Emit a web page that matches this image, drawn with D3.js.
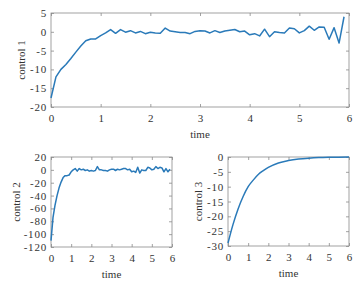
<!DOCTYPE html>
<html lang="en">
<head>
<meta charset="UTF-8">
<script src="https://d3js.org/d3.v7.min.js"></script>
<style>
    body { margin: 0; background: #fff; }
    svg { display: block; }
    svg text { font-family: 'Liberation Serif', 'Times New Roman', 'DejaVu Serif', serif; }
</style>
</head>
<body>
<script>
    // control 1 (top), sampled every 0.1 s
    var t1 = d3.range(60).map(function (i) { return i / 10; });
    var control1 = [-17.6, -12, -10, -8.7, -7.1, -5.4, -3.8, -2.4, -1.9, -1.9,
        -1.0, -0.3, 0.6, -0.4, 0.6, -0.1, 0.3, -0.3, 0.1, -0.5,
        -0.1, -0.3, -0.4, 1.0, 0.2, 0.0, -0.2, -0.2, -0.5, 0.1,
        0.3, 0.2, -0.3, 0.3, -0.2, 0.2, 0.4, 0.6, 0.0, 0.2,
        -0.8, -0.5, -1.1, 0.7, -1.3, 0.0, -0.2, -0.3, 1.0, 0.8,
        -0.3, 0.3, 1.5, 0.4, 1.3, 1.2, -2.0, 1.1, -3.0, 4.0];

    // control 2 (bottom left)
    var t2 = d3.range(60).map(function (i) { return i / 10; });
    var control2 = [-110, -74, -55, -40, -28, -19, -12, -9, -9, -8,
        -3, 0, 2, -2, 2, 0, 1, -1, 0, -2,
        -1, -2, -1, 5, 0, 0, -1, -1, -2, 0,
        1, 1, -1, 1, 0, 1, 2, 2, 0, 1,
        -3, -2, -4, 4, -5, 0, -1, -1, 4, 3,
        0, 1, 5, 2, 4, 3, -3, 2, -3, 1];

    // control 3 (bottom right)
    var t3 = [0, 0.25, 0.5, 0.75, 1, 1.25, 1.5, 1.75, 2, 2.5, 3, 3.5, 4, 4.5, 5, 5.5, 6];
    var control3 = [-29, -22.7, -17.5, -13.3, -10, -7.8, -5.9, -4.6, -3.5, -2.0, -1.2, -0.7, -0.4, -0.2, -0.1, -0.05, 0];

    var xTicks = [0, 1, 2, 3, 4, 5, 6];
    var y1Ticks = [-20, -15, -10, -5, 0, 5];
    var y2Ticks = [-120, -100, -80, -60, -40, -20, 0, 20];
    var y3Ticks = [-30, -25, -20, -15, -10, -5, 0];

    var W = 363, H = 286;
    var lineColor = '#2a7ab9';
    var boxColor = '#8a8a8a';
    var serif = "'Liberation Serif', 'Times New Roman', serif";

    var svg = d3.select('body').append('svg')
        .attr('width', W).attr('height', H)
        .attr('font-family', serif);

    function panel(opts) {
        var x = d3.scaleLinear().domain([0, 6]).range([opts.left, opts.right]);
        var y = d3.scaleLinear().domain(opts.yDomain).range([opts.bottom, opts.top]);
        var g = svg.append('g');

        // box
        g.append('rect')
            .attr('x', opts.left).attr('y', opts.top)
            .attr('width', opts.right - opts.left)
            .attr('height', opts.bottom - opts.top)
            .attr('fill', 'none').attr('stroke', boxColor).attr('stroke-width', 0.8);

        // axes with inward ticks
        var fmt = d3.format('d');
        var xb = g.append('g').attr('transform', 'translate(0,' + opts.bottom + ')')
            .call(d3.axisBottom(x).tickValues(xTicks).tickFormat(fmt).tickSizeInner(-3).tickSizeOuter(0).tickPadding(7));
        var xt = g.append('g').attr('transform', 'translate(0,' + opts.top + ')')
            .call(d3.axisTop(x).tickValues(xTicks).tickSizeInner(-3).tickSizeOuter(0).tickFormat(''));
        var yl = g.append('g').attr('transform', 'translate(' + opts.left + ',0)')
            .call(d3.axisLeft(y).tickValues(opts.yTicks).tickFormat(fmt).tickSizeInner(-3).tickSizeOuter(0).tickPadding(4));
        var yr = g.append('g').attr('transform', 'translate(' + opts.right + ',0)')
            .call(d3.axisRight(y).tickValues(opts.yTicks).tickSizeInner(-3).tickSizeOuter(0).tickFormat(''));

        [xb, xt, yl, yr].forEach(function (a) {
            a.attr('font-family', serif).attr('font-size', 11);
            a.select('.domain').remove();
            a.selectAll('line').attr('stroke', boxColor).attr('stroke-width', 0.8);
            a.selectAll('text').attr('fill', '#333');
        });
        // hyphen-minus like the original, slightly spaced out
        yl.selectAll('text').text(function (d) { return String(d); })
            .attr('letter-spacing', 0.8);

        var line = d3.line()
            .x(function (d, i) { return x(opts.t[i]); })
            .y(function (d) { return y(d); });
        if (opts.smooth) line.curve(d3.curveMonotoneX);

        g.append('path').datum(opts.values)
            .attr('d', line)
            .attr('fill', 'none')
            .attr('stroke', lineColor)
            .attr('stroke-width', 1.5)
            .attr('stroke-linejoin', 'round');

        g.append('text')
            .attr('x', (opts.left + opts.right) / 2)
            .attr('y', opts.bottom + 31)
            .attr('text-anchor', 'middle')
            .attr('fill', '#333')
            .attr('font-size', 11)
            .text('time');

        g.append('text')
            .attr('transform', 'translate(' + opts.ylabX + ',' + (opts.top + opts.bottom) / 2 + ') rotate(-90)')
            .attr('text-anchor', 'middle')
            .attr('fill', '#333')
            .attr('font-size', 11)
            .text(opts.ylab);
    }

    panel({ left: 51, right: 349, top: 13, bottom: 107, yDomain: [-20, 5], yTicks: y1Ticks,
        t: t1, values: control1, ylab: 'control 1', ylabX: 25 });
    panel({ left: 51, right: 172, top: 157, bottom: 247, yDomain: [-120, 20], yTicks: y2Ticks,
        t: t2, values: control2, ylab: 'control 2', ylabX: 20 });
    panel({ left: 228, right: 349, top: 157, bottom: 246, yDomain: [-30, 0], yTicks: y3Ticks,
        t: t3, values: control3, ylab: 'control 3', ylabX: 202, smooth: true });
</script>
</body>
</html>
